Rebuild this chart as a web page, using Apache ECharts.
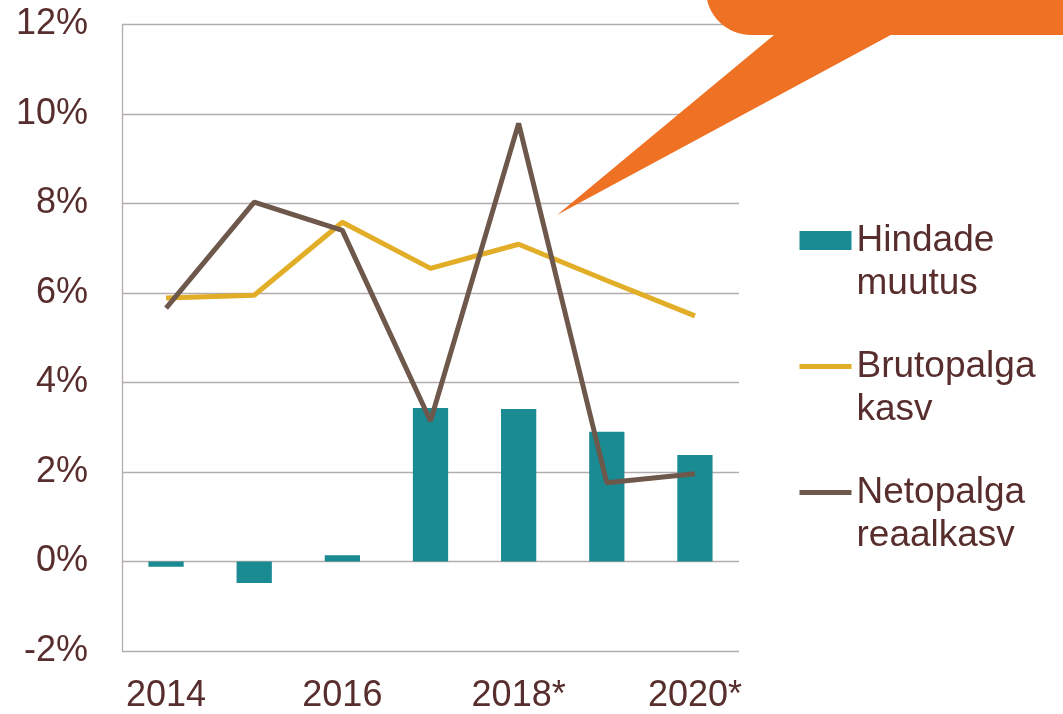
<!DOCTYPE html>
<html>
<head>
<meta charset="utf-8">
<script src="https://cdn.jsdelivr.net/npm/echarts@6/dist/echarts.min.js"></script>
<style>
  html, body { margin: 0; padding: 0; background: #fff; }
  #main { width: 1063px; height: 714px; }
</style>
</head>
<body>
<div id="main"></div>
<script>
// years on the category axis
var years = ['2014', '2015', '2016', '2017', '2018*', '2019*', '2020*'];
// series values, %
var hindadeMuutus = [-0.12, -0.48, 0.14, 3.43, 3.41, 2.9, 2.38];
var brutopalgaKasv = [5.89, 5.95, 7.58, 6.55, 7.09, 6.28, 5.49];
var netopalgaReaalkasv = [5.66, 8.03, 7.4, 3.14, 9.79, 1.76, 1.96];
var seriesNames = ['Hindade\nmuutus', 'Brutopalga\nkasv', 'Netopalga\nreaalkasv'];

var textColor = '#572e2d';
var gridColor = '#b3acac';

var myChart = echarts.init(document.getElementById('main'));
var option = {
    animation: false,
    textStyle: { fontFamily: 'Liberation Sans, Arial, sans-serif' },
    grid: { left: 122, right: 324, top: 24.5, bottom: 62 },
    legend: {
        orient: 'vertical',
        left: 792,
        top: 171,
        itemWidth: 52,
        itemHeight: 19,
        itemGap: -3,
        lineStyle: { width: 5 },
        data: [
            { name: seriesNames[0], icon: 'rect' },
            { name: seriesNames[1], itemStyle: { opacity: 0 } },
            { name: seriesNames[2], itemStyle: { opacity: 0 } }
        ],
        // blank first line so the icon sits beside the first text line
        formatter: function (name) {
            return '\n' + name;
        },
        textStyle: {
            color: textColor,
            fontSize: 37,
            lineHeight: 43
        }
    },
    xAxis: {
        type: 'category',
        data: years,
        axisLine: { show: false },
        axisTick: { show: false },
        axisLabel: {
            interval: 1,
            color: textColor,
            fontSize: 36,
            margin: 27
        }
    },
    yAxis: {
        type: 'value',
        min: -2,
        max: 12,
        interval: 2,
        axisLine: { show: true, lineStyle: { color: gridColor, width: 1.3 } },
        axisTick: { show: false },
        axisLabel: {
            color: textColor,
            fontSize: 36,
            margin: 34,
            formatter: '{value}%'
        },
        splitLine: { lineStyle: { color: gridColor, width: 1.3 } }
    },
    series: [
        {
            name: seriesNames[0],
            type: 'bar',
            data: hindadeMuutus,
            barWidth: '40%',
            itemStyle: { color: '#1a8a93' }
        },
        {
            name: seriesNames[1],
            type: 'line',
            data: brutopalgaKasv,
            symbol: 'none',
            lineStyle: { color: '#e2ad27', width: 5 },
            itemStyle: { color: '#e2ad27' }
        },
        {
            name: seriesNames[2],
            type: 'line',
            data: netopalgaReaalkasv,
            symbol: 'none',
            lineStyle: { color: '#6e584b', width: 5 },
            itemStyle: { color: '#6e584b' }
        }
    ],
    graphic: [
        {
            type: 'rect',
            z: 100,
            shape: { x: 706, y: -80, width: 420, height: 115, r: 45 },
            style: { fill: '#ee7124' }
        },
        {
            type: 'polygon',
            z: 100,
            shape: { points: [[557, 215], [780, 30], [900, 30]] },
            style: { fill: '#ee7124' }
        }
    ]
};
myChart.setOption(option);
</script>
</body>
</html>
